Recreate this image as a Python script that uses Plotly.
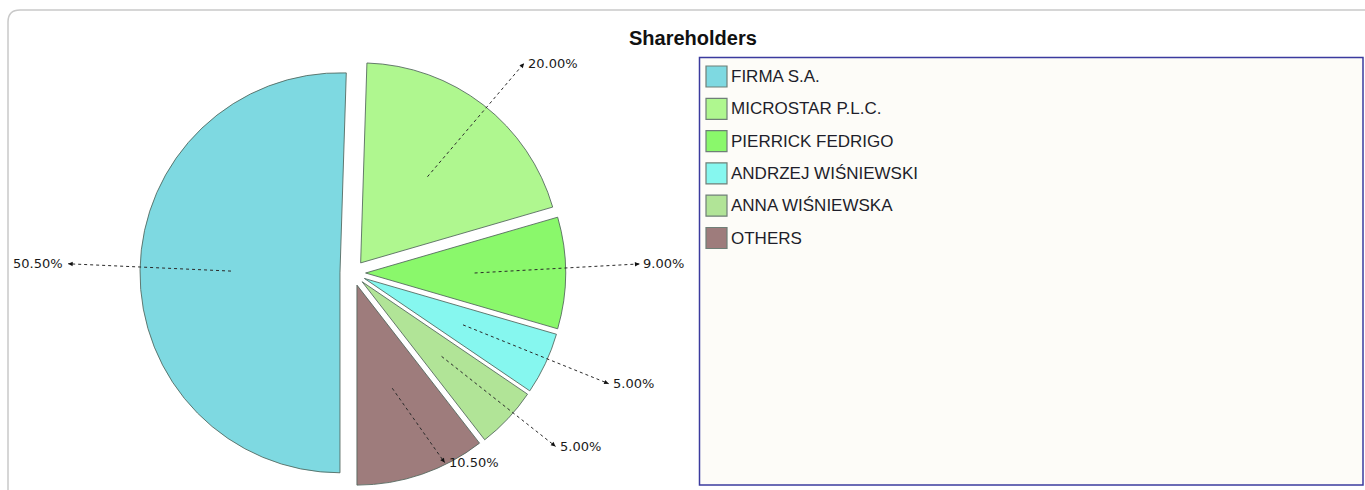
import math
import plotly.graph_objects as go

# ---- data ----
labels = ["FIRMA S.A.", "MICROSTAR P.L.C.", "PIERRICK FEDRIGO",
          "ANDRZEJ WIŚNIEWSKI", "ANNA WIŚNIEWSKA", "OTHERS"]
shares = [50.5, 20.0, 9.0, 5.0, 5.0, 10.5]
pct_text = [f"{v:.2f}%" for v in shares]

# ---- style ----
colors = ["#7ed9e1", "#aff78f", "#8af86b", "#86f7ef", "#b1e497", "#9e7c7c"]
W, H = 1365, 490
PULL = 0.064
ROTATION = 180  # first slice (FIRMA) starts at 6 o'clock
DOM_X = [0.10256, 0.41436]
DOM_Y = [0.00857, 0.87714]
LEAD_START = 0.545
LEAD_END = [1.36, 1.29, 1.37, 1.33, 1.27, 0.99]
END_ANGLE_ADJ = [1.0, 1.5, -1.9, -1.9, -2.8, -7.4]
TXT_FONT = dict(family="DejaVu Sans", size=13, color="#1a1a1a")

total = sum(shares)

fig = go.Figure()

fig.add_trace(go.Pie(
    labels=labels, values=shares, sort=False, direction="clockwise",
    rotation=ROTATION, pull=[PULL] * len(shares), textinfo="none",
    hoverinfo="skip", showlegend=False,
    marker=dict(colors=colors, line=dict(color="rgba(80,100,90,0.85)", width=1)),
    domain=dict(x=DOM_X, y=DOM_Y),
))

# pie geometry (same as plotly's own layout of the pie)
cx = W * (DOM_X[0] + DOM_X[1]) / 2
cy = H * (1 - (DOM_Y[0] + DOM_Y[1]) / 2)
r = min(W * (DOM_X[1] - DOM_X[0]), H * (DOM_Y[1] - DOM_Y[0])) / (2 * (1 + PULL))

shapes = []
annotations = []
cum = ROTATION
for i, v in enumerate(shares):
    span = 360.0 * v / total
    mid = (cum + span / 2) % 360
    cum += span
    t = math.radians(mid)
    pcx = cx + PULL * r * math.sin(t)
    pcy = cy - PULL * r * math.cos(t)
    sx = pcx + LEAD_START * r * math.sin(t)
    sy = pcy - LEAD_START * r * math.cos(t)
    te = math.radians(mid + END_ANGLE_ADJ[i])
    ex = pcx + LEAD_END[i] * r * math.sin(te)
    ey = pcy - LEAD_END[i] * r * math.cos(te)
    shapes.append(dict(type="line", xref="x", yref="y", x0=sx, y0=sy, x1=ex, y1=ey,
                       line=dict(color="#2a2a2a", width=1, dash="dot"), layer="above"))
    L = math.hypot(ex - sx, ey - sy)
    ux, uy = (ex - sx) / L, (ey - sy) / L
    annotations.append(dict(x=ex, y=ey, xref="x", yref="y", ax=ex - 6 * ux, ay=ey - 6 * uy,
                            axref="x", ayref="y", text="", showarrow=True, arrowhead=2,
                            arrowsize=0.9, arrowwidth=1, arrowcolor="#111111", standoff=0))
    left_side = ex < cx
    annotations.append(dict(
        x=ex + (-3 if left_side else 2), y=ey, xref="x", yref="y",
        text=pct_text[i], showarrow=False,
        xanchor="right" if left_side else "left", yanchor="middle",
        font=TXT_FONT))

# ---- frame and legend (manual box) ----
shapes.append(dict(type="path", xref="x", yref="y",
                   path="M 8,492 L 8,22 Q 8,10 20,10 L 1367,10",
                   line=dict(color="#c9c9c9", width=1.5), layer="below"))
shapes.append(dict(type="rect", xref="x", yref="y", x0=699.5, y0=57.5, x1=1363, y1=485,
                   line=dict(color="#3b3b9e", width=1.5), fillcolor="#fdfcf8", layer="below"))
LEG_X0, LEG_Y0, SW, PITCH = 706, 66, 21, 32.3
for i, lab in enumerate(labels):
    y0 = LEG_Y0 + i * PITCH
    shapes.append(dict(type="rect", xref="x", yref="y", x0=LEG_X0, x1=LEG_X0 + SW,
                       y0=y0, y1=y0 + SW, fillcolor=colors[i],
                       line=dict(color="#6f7f77", width=1.2)))
    annotations.append(dict(x=LEG_X0 + SW + 2, y=y0 + SW / 2, xref="x", yref="y",
                            text=lab, showarrow=False, xanchor="left", yanchor="middle",
                            font=dict(family="Liberation Sans, Arial", size=17, color="#1e1e2a")))

annotations.append(dict(x=693, y=38, xref="x", yref="y", text="<b>Shareholders</b>",
                        showarrow=False, xanchor="center", yanchor="middle",
                        font=dict(family="Liberation Sans, Arial", size=20, color="#111111")))

fig.update_layout(
    width=W, height=H, margin=dict(l=0, r=0, t=0, b=0),
    paper_bgcolor="white", plot_bgcolor="rgba(0,0,0,0)",
    xaxis=dict(range=[0, W], domain=[0, 1], visible=False, fixedrange=True),
    yaxis=dict(range=[H, 0], domain=[0, 1], visible=False, fixedrange=True),
    shapes=shapes, annotations=annotations, showlegend=False,
)

fig.write_html("out.html", config={"displayModeBar": False},
               post_script="document.body.style.margin='0';document.body.style.overflow='hidden';")
